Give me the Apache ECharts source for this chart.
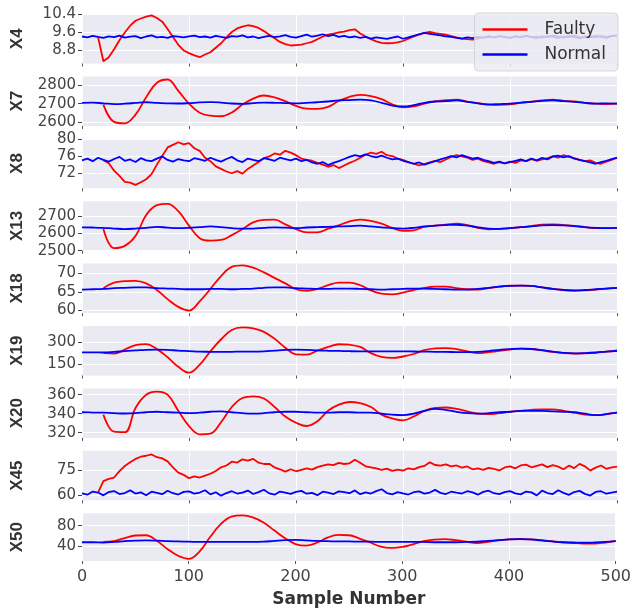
<!doctype html>
<html>
<head>
<meta charset="utf-8">
<title>Faulty vs Normal</title>
<script src="https://cdn.jsdelivr.net/npm/echarts@6.0.0/dist/echarts.min.js"></script>
<style>
  html, body { margin: 0; padding: 0; background: #fff; }
  #chart { width: 634px; height: 609px; }
</style>
</head>
<body>
<div id="chart"></div>
<script>
// sample grids (coarse for the smooth signals, fine for the noisy ones)
var samplesCoarse = [];
for (var s = 0; s <= 500; s += 10) samplesCoarse.push(s);
var samplesFine = [];
for (var f = 0; f <= 500; f += 5) samplesFine.push(f);

// X4 (fine)
var x4Faulty = [null,null,null,9.40,8.32,8.50,8.85,9.25,9.60,9.90,10.12,10.22,10.30,10.36,10.24,10.08,9.75,9.40,9.05,8.80,
  8.68,8.58,8.50,8.62,8.72,8.92,9.12,9.38,9.62,9.78,9.86,9.92,9.88,9.80,9.66,9.50,9.34,9.18,9.08,9.02,
  9.04,9.06,9.12,9.18,9.30,9.42,9.50,9.55,9.60,9.64,9.70,9.74,9.55,9.42,9.30,9.20,9.14,9.12,9.13,9.16,
  9.22,9.32,9.42,9.50,9.58,9.62,9.57,9.54,9.50,9.44,9.38,9.33,9.30,9.28,9.32,9.38,9.42,9.37,9.44,9.40,
  9.36,9.43,9.40,9.45,9.38,9.42,9.36,9.44,9.40,9.35,9.42,9.39,9.46,9.40,9.37,9.43,9.38,9.44,9.40,9.45,9.47];
var x4Normal = [9.42,9.38,9.45,9.40,9.36,9.43,9.39,9.46,9.37,9.41,9.44,9.35,9.42,9.47,9.38,9.40,9.36,9.44,9.41,9.38,
  9.43,9.46,9.39,9.42,9.37,9.45,9.40,9.36,9.44,9.41,9.47,9.38,9.42,9.35,9.40,9.45,9.39,9.43,9.48,9.40,
  9.37,9.44,9.50,9.41,9.46,9.52,9.44,9.49,9.40,9.45,9.38,9.42,9.36,9.40,9.33,9.38,9.35,9.31,9.37,9.42,
  9.32,9.38,9.45,9.52,9.58,9.54,9.50,9.47,9.43,9.40,9.36,9.33,9.38,9.35,9.40,9.37,9.42,9.38,9.44,9.40,
  9.36,9.42,9.38,9.45,9.40,9.35,9.43,9.39,9.46,9.41,9.37,9.44,9.40,9.34,9.42,9.38,9.45,9.41,9.36,9.44,9.46];

// X7 (coarse)
var x7Faulty = [null,null,2695,2600,2592,2640,2736,2815,2833,2770,2700,2650,2634,2631,2652,2695,2728,2745,2735,2714,
  2688,2673,2672,2683,2715,2738,2748,2742,2725,2697,2680,2685,2700,2713,2719,2722,2712,2703,2695,2694,
  2696,2705,2711,2718,2722,2716,2712,2705,2700,2698,2700];
var x7Normal = [2705,2706,2702,2698,2700,2704,2708,2704,2702,2701,2703,2707,2709,2706,2701,2699,2703,2706,2705,2703,
  2702,2705,2708,2712,2718,2720,2722,2718,2705,2690,2685,2692,2705,2712,2714,2718,2710,2702,2696,2698,
  2700,2706,2710,2716,2718,2714,2710,2704,2700,2702,2700];

// X8 (fine)
var x8Faulty = [null,null,null,null,75.0,74.3,72.6,71.4,70.0,69.8,69.3,69.9,70.6,71.8,74.0,76.0,78.0,78.6,79.2,78.7,
  79.0,77.8,77.2,75.6,74.8,73.6,73.0,72.4,72.0,72.5,71.9,73.0,73.8,74.6,75.5,75.9,76.6,76.3,77.2,76.8,
  76.2,75.4,75.1,74.9,74.4,74.0,73.5,73.9,73.2,73.8,74.4,74.9,75.6,76.3,76.8,76.5,77.0,76.2,76.0,75.4,
  75.1,74.6,74.2,73.8,74.1,74.5,74.9,74.6,75.2,75.8,76.2,75.9,75.6,75.1,75.4,74.8,74.5,74.2,74.6,74.3,
  74.7,74.4,75.0,74.8,75.3,74.9,75.2,75.5,75.9,75.6,76.2,75.8,75.5,75.1,74.8,75.0,74.4,74.2,74.7,75.1,75.6];
var x8Normal = [75.0,75.4,74.8,75.6,75.1,74.7,75.3,75.8,74.9,75.2,74.6,75.5,75.0,74.8,75.4,75.9,75.1,74.7,75.3,75.0,
  74.8,75.5,75.2,74.9,75.6,75.1,74.7,75.3,75.8,75.0,74.6,75.4,75.1,74.8,75.5,75.2,74.9,75.6,75.3,75.0,
  75.4,74.8,75.1,74.5,74.2,74.6,73.9,74.4,74.8,75.3,75.8,76.2,75.9,76.4,76.0,75.7,76.1,75.6,75.2,75.4,
  74.9,74.6,74.2,74.5,74.0,74.4,74.8,75.2,75.6,76.0,75.7,76.2,75.8,75.4,75.6,75.1,74.8,74.4,74.7,74.3,
  74.6,74.9,75.2,74.8,75.4,75.0,75.6,75.2,75.9,76.1,75.7,76.0,75.4,75.1,74.8,74.5,74.2,74.6,74.9,75.3,75.6];

// X13 (coarse)
var x13Faulty = [null,null,2625,2515,2528,2585,2706,2763,2771,2728,2645,2572,2558,2562,2590,2625,2664,2678,2679,2652,
  2625,2606,2606,2627,2646,2670,2680,2672,2656,2632,2615,2618,2638,2645,2650,2657,2648,2632,2624,2626,
  2630,2636,2642,2650,2652,2648,2644,2636,2630,2630,2632];
var x13Normal = [2635,2634,2632,2628,2625,2628,2632,2638,2633,2630,2632,2636,2640,2636,2630,2627,2628,2632,2635,2633,
  2630,2634,2636,2638,2640,2642,2645,2640,2635,2630,2628,2632,2640,2645,2648,2650,2645,2635,2628,2626,
  2630,2636,2640,2646,2648,2646,2642,2636,2632,2630,2632];

// X18 (coarse)
var x18Faulty = [null,null,66.0,67.5,67.9,68.0,67.3,65.5,63.0,60.9,59.9,62.4,65.8,69.3,71.8,72.2,71.6,70.3,68.8,67.3,
  65.7,65.3,65.8,66.8,67.5,67.5,66.8,65.4,64.5,64.3,64.8,65.5,66.1,66.4,66.4,66.0,65.7,65.6,66.0,66.4,
  66.7,66.7,66.6,66.2,65.8,65.5,65.3,65.4,65.6,65.9,66.1];
var x18Normal = [65.6,65.7,65.8,66.0,66.1,66.2,66.2,66.0,65.9,65.8,65.7,65.7,65.8,65.8,65.7,65.8,65.9,66.1,66.2,66.2,
  66.0,65.9,65.8,65.8,65.9,65.9,65.8,65.7,65.6,65.7,65.8,65.9,65.9,65.8,65.7,65.6,65.6,65.8,66.1,66.4,
  66.6,66.7,66.6,66.2,65.8,65.5,65.4,65.5,65.7,65.9,66.1];

// X19 (coarse)
var x19Faulty = [null,null,230,225,252,282,289,255,200,135,95,150,240,322,385,402,396,372,325,265,
  220,218,245,270,288,285,270,228,202,195,205,222,248,260,262,255,240,228,235,243,
  252,258,256,246,236,228,225,226,230,238,244];
var x19Normal = [233,233,232,236,242,246,250,251,250,245,242,238,237,236,237,238,238,240,245,250,
  252,250,246,244,243,241,240,240,240,240,240,239,238,237,236,235,234,236,242,250,
  255,258,256,248,238,230,226,228,232,238,244];

// X20 (coarse)
var x20Faulty = [null,null,339,321,320.5,346,360,363.3,360,343,327,318.3,319,331,347,356.5,358.3,356,347,337,
  330.5,327,332,343,349.5,352.3,351,347,339,335,333,337,343,346,346.5,345,342.5,340,339.5,340.5,
  342,343,344,344.5,344.5,343,341,339,338.5,339.5,341];
var x20Normal = [341.5,341.2,341,340.5,340.2,340.5,341.5,342,341.5,341,340.5,341,342,342.5,341.5,340.5,340,340.5,341.5,342,
  342,341.5,341,341,341.5,341.5,341,341,340,339,338.5,340,343,345,344,342,340.5,340,340.5,341.5,
  342,343,343,343,342.5,342,341.5,340,338.5,339.5,341];

// X45 (fine)
var x45Faulty = [null,null,null,61.5,68.4,69.8,70.6,74.5,77.6,79.8,81.9,83.2,83.8,84.6,82.9,82.2,80.4,76.8,73.6,72.2,
  70.2,71.3,70.6,71.8,72.9,74.6,76.8,77.9,80.2,79.7,81.6,80.8,81.9,79.6,78.8,78.9,76.7,75.6,74.2,75.6,
  74.4,75.3,76.2,75.4,76.9,77.8,78.6,78.1,79.5,78.8,79.2,81.4,79.6,77.4,76.8,76.1,75.2,76.0,74.6,75.4,
  74.8,76.2,75.5,76.9,77.6,79.8,78.2,77.8,78.6,77.4,77.9,76.6,77.3,75.6,76.2,75.2,76.4,75.8,74.9,76.7,
  77.3,76.2,77.9,78.4,76.8,77.7,78.6,76.9,78.1,77.2,75.6,77.8,76.3,78.9,77.4,74.8,76.6,77.9,75.9,76.8,77.2];
var x45Normal = [61.0,60.2,62.1,61.5,59.8,61.8,62.4,60.6,61.2,62.8,60.9,61.6,59.9,62.0,61.3,60.5,62.6,61.1,60.3,61.9,
  62.2,60.8,61.5,62.9,60.4,61.7,59.6,61.2,62.3,60.9,61.4,62.7,60.6,61.8,63.2,61.0,60.2,62.1,61.5,60.7,
  61.9,62.5,60.8,61.3,59.9,62.0,61.4,60.6,62.2,61.7,61.1,62.8,60.5,61.6,60.9,62.4,63.5,61.2,60.4,61.8,
  61.0,60.3,61.7,62.2,60.8,61.5,63.1,61.3,60.6,62.0,61.4,60.9,62.3,61.6,60.2,61.9,62.6,61.1,60.5,61.8,
  62.4,61.0,60.4,62.1,61.6,59.8,62.7,61.2,60.6,62.9,61.3,60.1,61.8,62.5,60.7,59.7,61.9,62.3,60.8,61.5,62.0];

// X50 (coarse)
var x50Faulty = [null,null,48.5,50,56,61,61.5,51,35,22,16,30,58,83,97.5,99.7,96,86,71,56,
  44.5,41.5,47,57,62,61.5,55,47.5,39.5,37,39,44,50,53,54,52,49,46.5,48.5,51.5,
  53.5,54.2,53.5,52,50,48,46.5,45.5,45.5,47.5,50.5];
var x50Normal = [48,48,47.5,48.5,50,51,51.5,51,50,49.5,49,48.5,48.5,48.5,48.5,48.5,48.5,49,50.5,52,
  52.5,51.5,50.5,50,49.5,49.5,49,49,48.5,48.5,48.5,48.5,48.5,48,48,48,48.5,49,50.5,52,
  53.5,54,53.5,51.5,49.5,48,47.5,47,47.5,48.5,50];

var panels = [
  { name: 'X4',  min: 8.22, max: 10.42, ticks: [8.8, 9.6, 10.4], xs: samplesFine,   faulty: x4Faulty,  normal: x4Normal,  smooth: false },
  { name: 'X7',  min: 2578, max: 2850,  ticks: [2600, 2700, 2800], xs: samplesCoarse, faulty: x7Faulty,  normal: x7Normal,  smooth: true },
  { name: 'X8',  min: 68.5, max: 80,    ticks: [72, 76, 80],    xs: samplesFine,   faulty: x8Faulty,  normal: x8Normal,  smooth: false },
  { name: 'X13', min: 2500, max: 2786,  ticks: [2500, 2600, 2700], xs: samplesCoarse, faulty: x13Faulty, normal: x13Normal, smooth: true },
  { name: 'X18', min: 59.2, max: 72.7,  ticks: [60, 65, 70],    xs: samplesCoarse, faulty: x18Faulty, normal: x18Normal, smooth: true },
  { name: 'X19', min: 76,   max: 412,   ticks: [150, 300],      xs: samplesCoarse, faulty: x19Faulty, normal: x19Normal, smooth: true },
  { name: 'X20', min: 314.5, max: 366.6, ticks: [320, 340, 360], xs: samplesCoarse, faulty: x20Faulty, normal: x20Normal, smooth: true },
  { name: 'X45', min: 56.8, max: 86.8,  ticks: [60, 75],        xs: samplesFine,   faulty: x45Faulty, normal: x45Normal, smooth: false },
  { name: 'X50', min: 11.8, max: 104,   ticks: [40, 80],        xs: samplesCoarse, faulty: x50Faulty, normal: x50Normal, smooth: true }
];

function pairs(xs, ys) {
  var out = [];
  for (var i = 0; i < xs.length; i++) {
    if (ys[i] !== null) out.push([xs[i], ys[i]]);
  }
  return out;
}

var grids = [], xAxes = [], yAxes = [], series = [];
var last = panels.length - 1;

panels.forEach(function (p, i) {
  grids.push({
    left: 82, right: 17, top: 14 + i * 62.4, height: 49.5,
    show: true, backgroundColor: '#eaeaf2', borderWidth: 0
  });
  xAxes.push({
    type: 'value', gridIndex: i, min: 0, max: 500, interval: 100,
    axisLine: { show: false },
    axisTick: { show: true, length: 3, lineStyle: { color: '#555' } },
    axisLabel: {
      show: i === last, margin: 8, fontSize: 16, color: '#444',
      fontFamily: 'DejaVu Sans'
    },
    splitLine: { show: true, lineStyle: { color: '#fff', width: 1 } },
    name: i === last ? 'Sample Number' : '',
    nameLocation: 'middle', nameGap: 30,
    nameTextStyle: { fontSize: 17, fontWeight: 'bold', color: '#333', fontFamily: 'DejaVu Sans' }
  });
  yAxes.push({
    type: 'value', gridIndex: i, min: p.min, max: p.max,
    axisLine: { show: false },
    axisTick: { show: true, length: 4, customValues: p.ticks, lineStyle: { color: '#444' } },
    axisLabel: {
      customValues: p.ticks, margin: 6, fontSize: 15, color: '#444', fontFamily: 'DejaVu Sans',
      formatter: function (v) { return String(v); }
    },
    splitLine: { show: true, lineStyle: { color: '#fff', width: 1 } },
    name: p.name, nameLocation: 'middle', nameRotate: 90, nameGap: 56,
    nameTextStyle: { fontSize: 17, fontWeight: 'bold', color: '#333', fontFamily: 'Liberation Sans' }
  });
  series.push({
    name: 'Faulty', type: 'line', xAxisIndex: i, yAxisIndex: i,
    data: pairs(p.xs, p.faulty), showSymbol: false, symbol: 'none',
    smooth: p.smooth ? 0.4 : false, color: '#ff0000',
    lineStyle: { width: 1.8, color: '#ff0000' }, z: 2
  });
  series.push({
    name: 'Normal', type: 'line', xAxisIndex: i, yAxisIndex: i,
    data: pairs(p.xs, p.normal), showSymbol: false, symbol: 'none',
    smooth: p.smooth ? 0.4 : false, color: '#0000ff',
    lineStyle: { width: 1.8, color: '#0000ff' }, z: 3
  });
});

var chart = echarts.init(document.getElementById('chart'));
chart.setOption({
  animation: false,
  backgroundColor: '#fff',
  legend: {
    data: ['Faulty', 'Normal'],
    orient: 'vertical', right: 16, top: 13,
    icon: 'rect', itemWidth: 45, itemHeight: 2.5, itemGap: 8,
    padding: [8, 12, 8, 8],
    backgroundColor: 'rgba(234,234,242,0.82)',
    borderColor: 'rgba(210,210,215,0.9)', borderWidth: 1, borderRadius: 4,
    textStyle: { fontSize: 17, color: '#333', fontFamily: 'DejaVu Sans', padding: [0, 0, 0, 12] }
  },
  grid: grids,
  xAxis: xAxes,
  yAxis: yAxes,
  series: series
});
</script>
</body>
</html>
